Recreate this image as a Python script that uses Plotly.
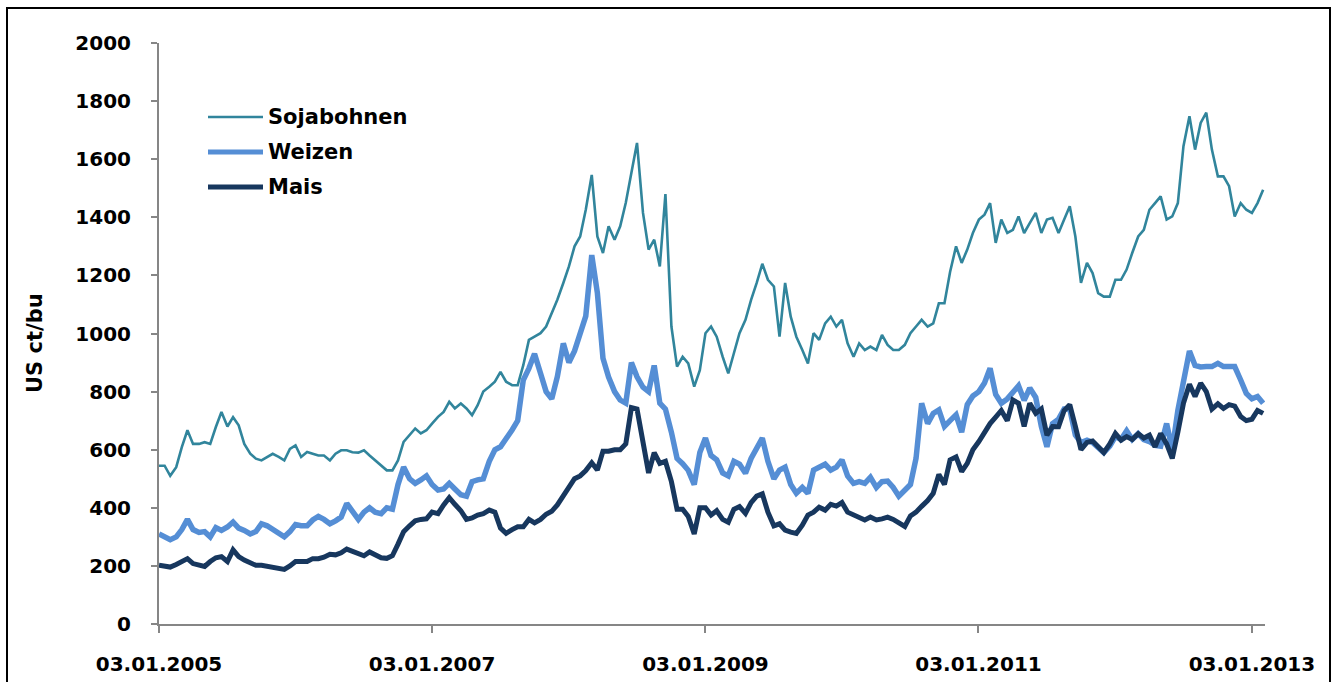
import pandas as pd
import plotly.graph_objects as go

# Semi-monthly readings (US ct/bu), first point on 03.01.2005
sojabohnen = [
    545, 545, 510, 540, 609, 667, 620, 620, 626, 620,
    678, 730, 680, 712, 684, 620, 586, 569, 563, 575,
    586, 575, 563, 603, 615, 575, 592, 586, 580, 580,
    563, 586, 598, 598, 591, 590, 598, 580, 563, 546,
    529, 529, 563, 627, 650, 673, 656, 667, 690, 713,
    730, 765, 742, 759, 742, 719, 753, 800, 817, 834,
    868, 834, 822, 822, 891, 978, 989, 1001, 1024, 1070,
    1116, 1174, 1231, 1300, 1334, 1426, 1546, 1334, 1277, 1369,
    1323, 1369, 1450, 1553, 1656, 1415, 1289, 1323, 1231, 1480,
    1024, 886, 920, 897, 817, 874, 1001, 1024, 989, 920,
    863, 932, 1001, 1047, 1116, 1174, 1240, 1185, 1162, 989,
    1174, 1058, 989, 943, 897, 1001, 978, 1035, 1058, 1024,
    1047, 966, 920, 966, 943, 955, 943, 995, 961, 943,
    943, 961, 1001, 1024, 1047, 1024, 1035, 1104, 1104, 1212,
    1300, 1243, 1289, 1346, 1392, 1409, 1449, 1312, 1392, 1346,
    1357, 1403, 1346, 1380, 1415, 1346, 1392, 1398, 1346, 1392,
    1438, 1334, 1174, 1243, 1208, 1139, 1127, 1127, 1185, 1185,
    1220, 1277, 1334, 1357, 1426, 1449, 1472, 1392, 1403, 1449,
    1645, 1748, 1633, 1725, 1760, 1633, 1541, 1541, 1507, 1403,
    1449, 1426, 1415, 1449, 1495,
]

weizen = [
    310, 300, 290, 300, 325, 360, 325, 315, 318, 300,
    332, 322, 334, 351, 330, 322, 310, 318, 345, 338,
    325, 312, 300, 318, 342, 338, 338, 358, 370, 360,
    345, 355, 368, 415, 385, 360, 385, 400, 385, 380,
    400, 395, 480, 540, 500, 484, 496, 510, 480, 461,
    465, 484, 465, 445, 440, 490, 496, 500, 560, 600,
    610, 635, 668, 700, 840, 880, 930, 863, 800, 775,
    851, 966, 900, 940, 1001, 1060, 1270, 1140, 915, 850,
    800, 771, 760, 900, 851, 815, 800, 890, 760, 740,
    660, 570, 552, 529, 480, 590, 640, 580, 565, 520,
    510, 560, 550, 519, 570, 610, 640, 560, 500, 530,
    540, 480, 450, 470, 450, 530, 540, 550, 530, 540,
    565, 510, 484, 490, 484, 505, 470, 490, 492, 470,
    440, 460, 480, 570, 760, 690, 725, 737, 680, 700,
    720, 660, 755, 785, 800, 830, 880, 790, 760, 775,
    795, 820, 770, 812, 780, 680, 610, 690, 705, 740,
    740, 650, 625, 633, 625, 610, 590, 612, 645, 635,
    665, 635, 655, 635, 628, 615, 612, 690, 600, 735,
    840, 940, 890, 885, 886, 886, 897, 886, 886, 886,
    840, 794, 775, 783, 760,
]

mais = [
    202, 198, 196, 205, 215, 225, 208, 202, 198, 215,
    228, 232, 215, 255, 232, 220, 210, 202, 202, 198,
    196, 190, 188, 200, 215, 215, 215, 225, 225, 230,
    240, 238, 245, 258, 250, 245, 235, 248, 238, 228,
    226, 235, 275, 318, 338, 355, 360, 362, 385, 380,
    410, 435, 412, 390, 360, 365, 375, 380, 392, 385,
    330, 312, 325, 335, 335, 360, 348, 360, 378, 388,
    410, 440, 475, 500, 510, 528, 555, 530, 595, 595,
    600, 600, 620, 745, 740, 630, 520, 590, 553, 560,
    490, 395, 395, 370, 310, 400, 400, 375, 390, 360,
    350, 395, 404, 381, 418, 440, 448, 385, 338, 345,
    323, 316, 312, 340, 375, 385, 402, 392, 412, 406,
    418, 385, 375, 370, 358, 368, 358, 362, 368, 360,
    348, 336, 372, 385, 405, 425, 450, 515, 480, 565,
    575, 525, 553, 600, 628, 660, 690, 712, 735, 700,
    771, 760, 680, 760, 725, 740, 650, 680, 679, 735,
    755, 680, 600, 625, 630, 610, 590, 620, 656, 633,
    645, 635, 655, 640, 650, 610, 656, 620, 570, 660,
    760, 825, 783, 829, 800, 740, 758, 742, 755, 750,
    714, 700, 705, 735, 725,
]

tick_dates = ["2005-01-03", "2007-01-03", "2009-01-03", "2011-01-03", "2013-01-03"]
tick_labels = ["03.01.2005", "03.01.2007", "03.01.2009", "03.01.2011", "03.01.2013"]
y_ticks = list(range(0, 2001, 200))

series_names = ["Sojabohnen", "Weizen", "Mais"]
series_colors = ["#31859C", "#558ED5", "#17375E"]
series_widths = [2.6, 5.5, 5.0]

start = pd.Timestamp("2005-01-03")
dates = [start + pd.Timedelta(days=round(k * 365.25 / 24)) for k in range(len(sojabohnen))]

fig = go.Figure()
for name, vals, col, w in zip(series_names, [sojabohnen, weizen, mais], series_colors, series_widths):
    fig.add_trace(go.Scatter(x=dates, y=vals, mode="lines", name=name,
                             line=dict(color=col, width=w), showlegend=False))

# plot area geometry (px) for paper conversion
L, R, T, B = 159, 68, 43, 58
W, H = 1333 - L - R, 682 - T - B

def px(x):
    return (x - L) / W

def py(y):
    return (682 - B - y) / H

font_family = "DejaVu Sans"

# custom legend (line sample + label)
legend_rows = [117, 152, 187]
shapes = []
annotations = []
for name, col, w, yy in zip(series_names, series_colors, series_widths, legend_rows):
    shapes.append(dict(type="line", xref="paper", yref="paper",
                       x0=px(208), x1=px(263), y0=py(yy), y1=py(yy),
                       line=dict(color=col, width=min(w, 5))))
    annotations.append(dict(xref="paper", yref="paper", x=px(266), y=py(yy),
                            text=name, showarrow=False, xanchor="left", yanchor="middle",
                            font=dict(family=font_family, size=21, color="black", weight="bold")))

# outer frame
shapes.append(dict(type="rect", xref="paper", yref="paper",
                   x0=px(7), x1=px(1330), y0=py(700), y1=py(8),
                   line=dict(color="black", width=2), fillcolor="rgba(0,0,0,0)"))

# y-axis title
annotations.append(dict(xref="paper", yref="paper", x=px(35), y=py(343), text="US ct/bu",
                        textangle=-90, showarrow=False, xanchor="center", yanchor="middle",
                        font=dict(family=font_family, size=21, color="black", weight="bold")))

fig.update_layout(
    width=1333, height=682,
    margin=dict(l=L, r=R, t=T, b=B, autoexpand=False),
    paper_bgcolor="white", plot_bgcolor="white",
    shapes=shapes, annotations=annotations,
    showlegend=False,
)
fig.update_xaxes(
    type="date", range=["2005-01-03", "2013-02-07"],
    tickvals=tick_dates, ticktext=tick_labels,
    showgrid=False, zeroline=False,
    showline=True, linecolor="#868686", linewidth=2,
    ticks="outside", ticklen=7, tickwidth=1.5, tickcolor="#868686",
    ticklabelstandoff=14,
    tickfont=dict(family=font_family, size=20, color="black", weight="bold"),
)
fig.update_yaxes(
    range=[0, 2000], tickvals=y_ticks,
    showgrid=False, zeroline=False,
    showline=True, linecolor="#868686", linewidth=2,
    ticks="outside", ticklen=6, tickwidth=1.5, tickcolor="#868686",
    ticklabelstandoff=16,
    tickfont=dict(family=font_family, size=20, color="black", weight="bold"),
)

fig.write_html(
    "out.html",
    config={"displayModeBar": False},
    post_script="document.body.style.margin='0px';document.body.style.overflow='hidden';",
)
